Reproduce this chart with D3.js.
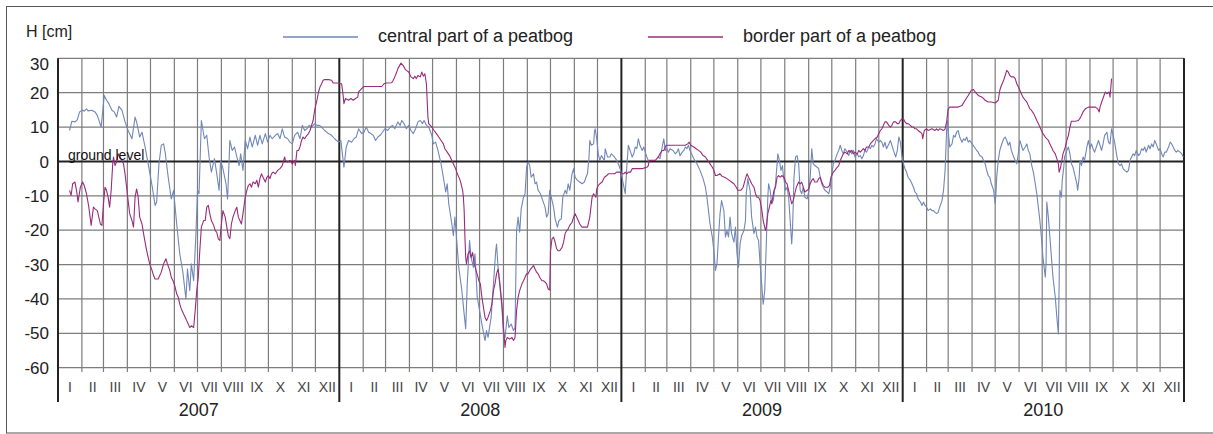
<!DOCTYPE html>
<html>
<head>
<meta charset="utf-8">
<script src="https://cdn.jsdelivr.net/npm/d3@7"></script>
<style>
  html, body { margin: 0; padding: 0; background: #fff; }
  svg { display: block; font-family: "Liberation Sans", Arial, Helvetica, sans-serif; }
</style>
</head>
<body>
<svg id="chart" width="1213" height="434"></svg>
<script>
// Water table depth H [cm] relative to ground level, 2007-2010.
// Each series is a list of [day of year, value] pairs.
const years = [2007, 2008, 2009, 2010];
const monthLabels = ["I", "II", "III", "IV", "V", "VI", "VII", "VIII", "IX", "X", "XI", "XII"];
const yTicks = [30, 20, 10, 0, -10, -20, -30, -40, -50, -60];
const seriesNames = ["central part of a peatbog", "border part of a peatbog"];

const central2007 = [[15,9.0],[18,11.7],[22,11.5],[25,12.1],[28,14.4],[32,15.0],[34,14.6],[37,15.3],[39,14.7],[44,14.9],[48,14.4],[51,13.4],[56,10.0],[60,19.2],[63,17.8],[66,16.8],[70,14.9],[73,14.4],[76,12.9],[79,16.0],[83,14.9],[87,11.5],[91,9.0],[96,6.6],[100,12.9],[102,11.5],[106,7.1],[109,8.5],[113,4.2],[117,-0.7],[122,-7.0],[126,-12.8],[128,-11.8],[131,-0.7],[134,4.7],[137,5.1],[139,2.7],[143,-4.6],[147,-10.9],[150,-8.4],[154,-18.2],[158,-26.9],[162,-32.2],[166,-40.0],[168,-31.3],[171,-37.6],[173,-29.8],[176,-34.7],[179,-21.0],[181,-8.4],[183,-9.4],[186,11.9],[190,6.6],[193,7.6],[196,1.3],[199,-3.1],[203,0.8],[206,-3.6],[209,-8.4],[211,0.3],[214,-2.1],[218,-6.5],[220,-10.9],[223,6.1],[226,3.2],[229,4.2],[232,1.3],[235,-1.2],[237,2.2],[240,-2.6],[243,6.1],[246,3.7],[249,7.1],[252,4.2],[256,7.6],[259,4.7],[262,7.6],[265,5.1],[269,8.1],[272,5.6],[275,7.6],[278,6.6],[282,7.6],[285,8.1],[288,6.6],[291,9.5],[294,7.1],[298,6.6],[301,5.6],[304,5.1],[307,7.6],[311,8.5],[314,6.6],[317,10.5],[320,9.0],[323,9.5],[326,10.5],[329,10.0],[333,11.0],[336,10.5],[339,10.5],[342,10.0],[346,9.0],[351,8.1],[355,7.6],[359,6.6],[364,5.6]];
const central2008 = [[2,6.1],[6,-1.7],[9,4.2],[12,6.1],[16,5.6],[19,6.6],[22,7.1],[25,9.5],[29,8.1],[32,8.5],[35,10.0],[38,8.5],[41,8.1],[44,7.6],[47,6.1],[50,7.1],[53,7.6],[56,8.5],[59,9.5],[63,9.0],[66,10.0],[69,10.5],[72,9.5],[76,11.5],[79,10.5],[81,11.9],[84,11.0],[87,9.5],[90,10.5],[93,9.0],[96,8.1],[99,9.5],[102,11.5],[105,11.9],[108,11.0],[110,11.9],[113,10.5],[116,10.0],[120,7.6],[122,5.1],[125,5.6],[128,3.2],[132,-0.7],[135,-4.6],[138,-8.9],[140,-6.5],[142,-12.3],[146,-18.2],[148,-21.6],[150,-16.2],[152,-22.0],[155,-30.8],[159,-37.6],[162,-44.4],[164,-48.7],[166,-35.6],[169,-23.0],[171,-27.9],[174,-30.8],[176,-26.9],[179,-39.5],[182,-43.4],[185,-47.3],[189,-52.1],[191,-49.2],[193,-51.2],[197,-45.3],[200,-35.6],[203,-25.9],[204,-24.0],[206,-30.8],[208,-35.6],[211,-42.4],[213,-50.2],[215,-51.2],[218,-44.9],[220,-48.3],[223,-47.3],[226,-49.2],[228,-48.3],[230,-20.1],[232,-16.2],[234,-20.6],[236,-13.8],[239,-10.4],[241,-9.4],[243,-1.7],[245,-0.2],[247,-1.2],[249,-4.6],[252,-3.6],[254,-6.5],[256,-6.0],[258,-8.4],[261,-9.4],[264,-11.4],[267,-13.3],[269,-16.2],[271,-15.2],[273,-8.4],[275,-10.4],[278,-13.3],[280,-16.7],[283,-19.1],[285,-17.2],[288,-16.7],[290,-10.4],[293,-8.4],[295,-9.4],[297,-6.5],[299,-8.4],[302,-3.6],[304,-2.1],[306,-4.6],[309,-5.5],[312,-6.0],[315,-6.5],[318,-6.0],[320,-4.6],[322,-3.6],[324,1.3],[325,6.1],[327,4.7],[330,5.1],[331,8.5],[332,9.5],[334,6.6],[336,2.2],[338,0.3],[340,1.7],[344,0.3],[345,3.7],[348,1.3],[351,1.3],[353,2.2],[357,1.3],[360,0.3],[363,-1.2],[365,-2.6]];
const central2009 = [[2,-6.0],[5,-9.4],[7,-1.7],[9,4.7],[12,2.7],[14,1.3],[16,2.2],[18,4.2],[20,3.7],[22,6.6],[24,4.7],[27,3.2],[29,4.2],[31,2.7],[33,1.3],[35,0.3],[40,null],[47,1.3],[50,0.8],[53,4.2],[55,6.6],[57,3.2],[59,3.7],[61,2.7],[63,3.7],[67,3.2],[70,2.2],[72,2.7],[74,3.7],[76,1.7],[79,2.7],[81,3.2],[83,4.2],[85,3.7],[87,4.7],[89,3.2],[92,1.7],[94,0.8],[98,-0.7],[102,-2.6],[106,-5.0],[109,-7.5],[111,-10.4],[113,-14.3],[115,-18.2],[118,-22.0],[120,-25.9],[122,-31.7],[124,-29.8],[126,-22.0],[128,-15.2],[130,-11.4],[133,-14.3],[135,-22.0],[137,-20.1],[139,-22.0],[141,-16.2],[143,-21.0],[146,-23.5],[148,-19.1],[150,-26.9],[152,-30.8],[154,-24.0],[156,-21.6],[159,-20.1],[161,-17.2],[162,-9.4],[164,-5.0],[166,-7.5],[167,-8.4],[169,-16.2],[172,-21.0],[174,-19.1],[176,-22.0],[178,-23.0],[180,-29.8],[182,-35.6],[184,-41.5],[186,-37.6],[188,-24.0],[190,-10.4],[191,-6.5],[193,-8.4],[195,-12.3],[197,-11.4],[200,-6.5],[202,-0.7],[203,2.2],[205,0.3],[207,-2.6],[209,-1.2],[210,-3.6],[213,-8.4],[215,-7.5],[217,-10.4],[219,-17.2],[221,-24.0],[222,-20.1],[224,-4.6],[226,1.3],[228,1.7],[230,-0.7],[232,-8.4],[234,-9.4],[236,-7.5],[238,-10.4],[241,-10.9],[243,-8.9],[245,-4.6],[247,3.7],[249,-0.7],[251,-1.2],[254,-1.7],[256,-2.1],[258,-4.6],[260,-6.5],[262,-7.5],[264,-8.4],[267,-8.9],[269,-9.4],[271,-7.5],[273,-3.6],[275,-0.7],[277,0.3],[280,2.2],[282,3.2],[284,4.7],[286,3.2],[288,2.2],[290,3.7],[293,2.7],[295,1.7],[297,3.2],[299,2.2],[301,3.2],[303,1.3],[306,2.2],[308,1.3],[310,1.7],[312,0.8],[314,1.7],[316,3.2],[318,2.7],[321,4.2],[323,3.7],[325,4.7],[327,4.2],[329,5.1],[331,6.6],[334,5.6],[336,6.1],[338,5.6],[340,4.2],[342,5.6],[344,3.7],[347,5.1],[349,6.1],[351,4.7],[353,3.2],[356,1.3],[358,3.2],[360,7.1],[362,5.6],[364,1.7]];
const central2010 = [[1,-0.7],[3,-2.1],[5,-3.1],[7,-4.6],[10,-5.5],[12,-6.5],[14,-7.5],[16,-8.9],[18,-9.4],[20,-10.9],[23,-11.8],[25,-12.8],[27,-11.8],[29,-12.8],[31,-13.3],[33,-14.3],[36,-13.8],[38,-14.3],[40,-14.3],[42,-14.8],[44,-15.2],[46,-14.8],[48,-13.3],[51,-11.4],[53,-8.4],[55,-2.6],[57,9.0],[58,11.9],[59,9.0],[61,4.2],[64,5.1],[66,7.6],[68,7.1],[70,8.5],[72,9.0],[74,7.1],[77,5.6],[79,6.6],[81,6.1],[83,7.1],[85,5.6],[87,6.1],[90,5.1],[93,4.2],[96,3.2],[98,2.7],[100,1.7],[103,1.3],[105,0.3],[107,-0.7],[109,-2.6],[111,-4.1],[113,-4.6],[115,-6.5],[118,-8.4],[120,-12.3],[121,-9.4],[122,-4.6],[124,0.3],[126,3.2],[128,4.7],[131,6.6],[133,7.1],[135,6.1],[137,4.7],[139,5.6],[141,3.2],[144,1.3],[146,0.3],[148,-0.7],[150,2.2],[152,6.1],[154,4.7],[156,3.2],[159,4.2],[161,5.1],[163,3.2],[165,2.2],[167,-0.7],[170,-3.6],[172,-6.5],[174,-9.4],[176,-13.3],[178,-17.2],[180,-22.0],[182,-27.9],[185,-33.7],[186,-29.8],[187,-11.8],[189,-16.2],[191,-22.0],[193,-27.9],[195,-33.7],[198,-39.5],[200,-45.3],[202,-50.2],[203,-35.6],[204,-8.4],[206,-10.4],[207,-5.5],[209,-1.7],[210,1.3],[213,3.2],[215,4.2],[217,2.2],[219,-0.7],[221,-1.7],[223,-3.6],[226,-6.5],[227,-8.4],[229,-4.6],[230,0.3],[232,-1.2],[234,1.3],[236,0.3],[239,4.2],[241,6.1],[243,3.7],[245,5.1],[247,3.7],[249,2.7],[252,4.7],[254,6.1],[256,4.7],[258,3.2],[260,5.1],[262,7.6],[265,8.5],[267,5.6],[269,5.1],[271,9.5],[273,7.6],[275,5.6],[278,1.3],[280,-0.7],[282,-1.2],[284,-0.7],[286,-2.1],[288,-2.6],[291,-3.1],[293,-2.6],[295,0.3],[297,1.3],[299,2.2],[301,1.7],[303,3.2],[306,1.7],[308,2.2],[310,3.7],[312,3.2],[314,4.2],[316,2.7],[319,4.7],[321,3.7],[323,5.1],[325,4.2],[327,6.1],[329,5.1],[332,3.2],[334,3.7],[336,2.2],[338,1.3],[340,2.7],[342,2.7],[345,4.2],[347,5.6],[349,5.1],[351,4.2],[353,3.2],[355,2.7],[357,3.2],[360,2.7],[362,2.2],[364,1.3]];

const border2007 = [[15,-8.4],[17,-9.9],[19,-6.5],[22,-6.0],[24,-8.4],[26,-11.8],[29,-7.5],[32,-6.0],[34,-7.0],[37,-9.4],[40,-13.3],[43,-18.6],[46,-13.3],[48,-13.8],[51,-14.3],[55,-18.2],[57,-18.6],[59,-12.3],[61,-7.5],[63,-8.4],[65,-10.4],[67,-13.3],[69,-8.4],[71,-0.7],[72,1.3],[74,-1.2],[76,-0.2],[78,2.2],[80,1.3],[83,0.3],[85,-0.7],[87,-3.6],[89,-7.5],[91,-11.4],[93,-15.2],[96,-17.2],[98,-19.1],[100,-10.4],[102,-8.0],[104,-10.4],[106,-16.2],[109,-18.2],[111,-21.0],[113,-23.5],[115,-25.9],[117,-27.9],[119,-29.8],[122,-31.7],[124,-33.2],[126,-34.2],[130,-34.2],[134,-32.2],[137,-29.8],[140,-28.3],[142,-29.8],[145,-31.7],[147,-33.7],[150,-35.1],[152,-36.6],[154,-38.5],[156,-39.5],[158,-41.5],[160,-42.9],[163,-44.4],[165,-45.3],[167,-46.3],[169,-47.3],[171,-48.3],[173,-47.8],[176,-48.3],[178,-43.4],[180,-37.6],[182,-33.7],[184,-25.9],[186,-19.1],[189,-17.2],[191,-17.2],[193,-13.3],[195,-12.8],[197,-15.2],[199,-17.2],[202,-18.6],[204,-20.1],[206,-20.6],[208,-22.5],[210,-23.0],[212,-18.2],[214,-14.3],[217,-16.2],[219,-19.1],[221,-21.6],[223,-22.5],[225,-18.2],[227,-16.2],[230,-14.3],[232,-13.3],[234,-16.2],[236,-17.2],[238,-18.2],[240,-15.2],[243,-10.4],[245,-8.4],[247,-7.0],[249,-6.5],[251,-7.5],[253,-6.0],[256,-6.5],[258,-5.5],[260,-7.5],[262,-5.0],[264,-3.6],[266,-4.6],[269,-6.0],[271,-4.6],[273,-4.1],[275,-5.0],[277,-3.6],[279,-3.1],[282,-3.6],[285,-2.6],[288,-2.1],[291,-1.2],[294,1.3],[295,0.3],[298,-0.2],[301,0.3],[304,-0.7],[307,0.3],[308,-1.2],[310,3.2],[312,3.2],[314,4.2],[316,6.1],[318,7.1],[320,6.6],[323,7.6],[325,8.1],[327,9.0],[329,10.5],[331,11.9],[333,14.9],[336,17.8],[338,20.2],[340,21.7],[342,22.6],[344,23.6],[346,23.8],[351,23.8],[355,23.6],[357,22.8],[361,22.8],[365,22.8]];
const border2008 = [[1,22.6],[3,22.6],[5,19.2],[6,16.8],[8,18.3],[12,17.8],[15,18.3],[18,17.8],[21,18.3],[24,18.7],[25,20.2],[29,21.2],[32,21.8],[46,21.8],[55,21.8],[58,22.6],[61,22.8],[68,22.9],[70,23.6],[72,24.6],[74,25.7],[76,27.0],[80,28.6],[83,27.9],[85,27.0],[87,26.5],[90,26.0],[93,24.6],[96,24.1],[98,24.8],[100,24.1],[102,25.0],[105,24.6],[107,26.0],[109,24.8],[111,25.5],[113,22.6],[115,12.9],[116,11.0],[120,10.0],[123,9.0],[126,8.1],[129,7.1],[132,6.1],[135,5.1],[137,3.7],[140,2.7],[143,1.7],[146,0.3],[149,-1.2],[151,-2.1],[153,-3.6],[156,-5.0],[158,-6.5],[160,-8.4],[161,-10.4],[162,-14.3],[163,-22.0],[164,-27.9],[165,-29.8],[167,-26.9],[169,-26.0],[171,-27.9],[173,-26.5],[175,-29.8],[177,-31.3],[180,-33.7],[181,-34.7],[183,-35.6],[185,-39.5],[187,-42.4],[189,-45.3],[191,-46.3],[193,-45.3],[196,-43.4],[198,-41.5],[200,-37.6],[202,-35.6],[204,-32.7],[206,-31.3],[208,-34.7],[211,-41.5],[213,-48.3],[215,-54.1],[216,-52.1],[218,-51.2],[221,-51.7],[224,-51.2],[226,-52.1],[228,-51.2],[230,-43.4],[232,-39.5],[234,-37.6],[237,-35.6],[239,-34.7],[241,-33.7],[243,-32.7],[245,-32.7],[247,-31.7],[250,-30.8],[252,-30.3],[254,-31.3],[256,-32.2],[258,-32.7],[260,-33.7],[263,-34.7],[265,-34.7],[267,-35.1],[269,-35.6],[271,-37.1],[273,-37.4],[274,-26.0],[276,-22.5],[278,-22.0],[280,-23.5],[282,-25.4],[284,-26.0],[286,-26.0],[289,-25.0],[291,-23.5],[293,-21.0],[295,-20.1],[297,-19.6],[299,-18.6],[302,-17.7],[304,-16.2],[306,-15.2],[308,-16.2],[310,-17.2],[312,-18.2],[315,-19.1],[319,-19.1],[322,-19.1],[325,-16.2],[327,-12.3],[328,-10.4],[330,-9.4],[333,-10.4],[334,-8.0],[336,-7.0],[338,-6.5],[341,-6.0],[344,-4.6],[347,-4.1],[349,-3.6],[354,-3.6],[357,-3.6],[360,-3.1],[364,-3.1]];
const border2009 = [[1,-3.6],[3,-3.6],[5,-3.1],[7,-3.6],[9,-3.1],[12,-3.1],[14,-2.1],[18,-2.1],[22,-2.1],[27,-2.1],[31,-1.8],[33,-1.7],[35,-1.2],[36,0.3],[40,0.3],[44,0.3],[48,1.3],[50,2.2],[53,3.2],[55,3.2],[58,4.7],[70,4.7],[83,4.7],[86,5.1],[88,5.6],[90,4.7],[94,4.2],[97,3.7],[100,3.2],[103,2.7],[106,1.7],[109,1.3],[112,0.3],[115,-0.7],[118,-1.7],[120,-2.6],[122,-4.1],[124,-4.1],[128,-3.6],[131,-4.4],[134,-4.6],[137,-5.0],[140,-5.5],[143,-6.0],[146,-6.5],[149,-7.5],[151,-8.4],[155,-8.4],[158,-7.5],[161,-5.0],[163,-3.6],[165,-4.6],[167,-5.5],[169,-6.5],[172,-7.5],[174,-9.4],[176,-10.4],[178,-10.4],[180,-11.4],[182,-13.8],[184,-17.2],[187,-20.1],[188,-19.1],[190,-15.2],[192,-13.3],[194,-11.4],[195,-12.3],[198,-8.4],[200,-7.5],[202,-4.6],[204,-4.1],[206,-4.6],[208,-4.1],[211,-4.6],[213,-6.0],[215,-6.5],[217,-8.4],[219,-10.4],[221,-12.3],[223,-11.4],[225,-9.4],[227,-7.5],[230,-6.0],[232,-6.5],[234,-6.0],[236,-7.5],[238,-8.9],[241,-8.4],[243,-8.0],[245,-6.5],[247,-5.5],[249,-5.0],[251,-6.0],[254,-6.0],[256,-5.0],[258,-4.6],[260,-6.0],[262,-7.0],[264,-7.5],[268,-7.5],[270,-7.0],[272,-4.6],[273,-4.1],[275,-3.1],[277,-2.6],[280,-1.7],[282,-1.2],[284,0.3],[286,1.3],[288,2.2],[290,2.7],[293,2.2],[295,3.2],[297,2.7],[299,3.2],[301,2.2],[303,2.7],[306,2.2],[308,3.2],[310,2.7],[312,3.2],[314,3.7],[316,3.2],[318,4.2],[321,4.2],[323,5.1],[325,5.6],[327,6.1],[329,6.6],[332,7.1],[334,8.1],[336,9.0],[338,9.5],[340,10.5],[342,11.5],[344,11.5],[347,10.5],[349,10.0],[351,10.5],[353,11.5],[356,11.5],[358,11.0],[360,11.0],[362,11.9],[364,12.4]];
const border2010 = [[1,12.4],[3,11.5],[5,11.0],[7,11.0],[10,10.5],[12,10.0],[14,10.0],[16,9.5],[18,9.5],[20,9.0],[23,8.5],[25,8.1],[26,6.6],[28,9.0],[31,9.5],[33,9.0],[38,9.5],[42,9.0],[44,9.5],[46,9.0],[48,9.5],[51,9.2],[53,9.0],[55,9.5],[57,11.5],[59,15.3],[61,15.8],[66,15.8],[72,15.8],[77,16.3],[81,17.8],[85,19.2],[89,20.7],[92,20.9],[94,20.2],[98,19.2],[103,18.7],[107,17.8],[111,17.3],[115,17.3],[120,17.0],[124,17.8],[126,20.7],[128,22.1],[131,23.6],[133,25.0],[135,26.5],[137,26.0],[139,25.0],[141,24.6],[144,24.6],[146,24.1],[148,22.6],[150,21.7],[152,20.7],[154,19.7],[156,18.7],[159,17.8],[161,17.3],[163,16.3],[165,15.3],[167,14.9],[170,13.9],[172,12.9],[174,11.9],[176,11.0],[178,10.0],[180,9.0],[182,8.1],[185,7.1],[187,6.6],[189,6.1],[191,5.1],[193,4.2],[195,3.2],[198,2.2],[200,0.8],[202,-0.7],[203,-3.1],[205,-1.7],[206,-0.2],[208,2.2],[211,4.2],[213,6.1],[215,7.6],[217,10.0],[219,11.7],[224,11.7],[228,11.9],[231,12.9],[234,14.4],[237,15.3],[241,15.8],[245,15.8],[250,15.8],[253,15.3],[255,14.4],[256,15.8],[259,17.8],[262,19.7],[263,20.2],[265,19.7],[268,20.2],[269,18.7],[271,24.1]];

const seriesColors = ["#7087b8", "#992c7d"];

// Turn [day, value] pairs of each year into dated points
function toPoints(year, pairs) {
  const start = new Date(year, 0, 1);
  return pairs.map(([day, v]) => ({ date: d3.timeDay.offset(start, day), v }));
}
const central = [].concat(
  toPoints(2007, central2007), toPoints(2008, central2008),
  toPoints(2009, central2009), toPoints(2010, central2010));
const border = [].concat(
  toPoints(2007, border2007), toPoints(2008, border2008),
  toPoints(2009, border2009), toPoints(2010, border2010));

const svg = d3.select("#chart");
const plotLeft = 58, plotRight = 1184, plotTop = 58.3, plotBottom = 367.7;

const x = d3.scaleTime()
  .domain([new Date(years[0], 0, 1), new Date(years[years.length - 1] + 1, 0, 1)])
  .range([plotLeft, plotRight]);
const y = d3.scaleLinear().domain([-60, 30]).range([plotBottom, plotTop]);

// outer frame
svg.append("rect")
  .attr("x", 6.5).attr("y", 6.5).attr("width", 1230).attr("height", 426.5)
  .attr("fill", "none").attr("stroke", "#555").attr("stroke-width", 1);

// horizontal grid
const grid = svg.append("g");
grid.selectAll("line.h").data(yTicks.filter(d => d !== 0)).join("line")
  .attr("x1", plotLeft).attr("x2", plotRight)
  .attr("y1", d => y(d)).attr("y2", d => y(d))
  .attr("stroke", "#7d7d7d").attr("stroke-width", 1.2);

// month grid lines (year starts are drawn separately)
const monthStarts = d3.timeMonth.range(x.domain()[0], x.domain()[1]).filter(d => d.getMonth() !== 0);
grid.selectAll("line.m").data(monthStarts).join("line")
  .attr("x1", d => x(d)).attr("x2", d => x(d))
  .attr("y1", plotTop).attr("y2", 372)
  .attr("stroke", "#7d7d7d").attr("stroke-width", 1.2);

// ground level
grid.append("line")
  .attr("x1", plotLeft).attr("x2", plotRight).attr("y1", y(0)).attr("y2", y(0))
  .attr("stroke", "#222").attr("stroke-width", 2);

// year separators (including both ends)
const yearStarts = d3.timeYear.range(x.domain()[0], d3.timeDay.offset(x.domain()[1], 1));
grid.selectAll("line.y").data(yearStarts).join("line")
  .attr("x1", d => x(d)).attr("x2", d => x(d))
  .attr("y1", plotTop).attr("y2", 402)
  .attr("stroke", "#222").attr("stroke-width", 2);

// y tick labels
svg.append("g").selectAll("text").data(yTicks).join("text")
  .attr("x", 49).attr("y", d => y(d) + (d === 30 ? 6 : 0))
  .attr("dy", "0.36em").attr("text-anchor", "end")
  .attr("font-size", 17).attr("fill", "#222")
  .text(d => d);

// month labels centred in each month
const allMonths = d3.timeMonth.range(x.domain()[0], x.domain()[1]);
svg.append("g").selectAll("text").data(allMonths).join("text")
  .attr("x", d => (x(d) + x(d3.timeMonth.offset(d, 1))) / 2)
  .attr("y", 392).attr("text-anchor", "middle")
  .attr("font-size", 14).attr("fill", "#444")
  .text(d => monthLabels[d.getMonth()]);

// year labels
svg.append("g").selectAll("text").data(years).join("text")
  .attr("x", d => (x(new Date(d, 0, 1)) + x(new Date(d + 1, 0, 1))) / 2)
  .attr("y", 416).attr("text-anchor", "middle")
  .attr("font-size", 18).attr("fill", "#222")
  .text(d => d);

// series lines
const line = d3.line()
  .defined(d => d.v !== null)
  .x(d => x(d.date)).y(d => y(d.v));

svg.append("path").datum(central)
  .attr("d", line).attr("fill", "none")
  .attr("stroke", seriesColors[0]).attr("stroke-width", 1.1)
  .attr("stroke-linejoin", "round");
svg.append("path").datum(border)
  .attr("d", line).attr("fill", "none")
  .attr("stroke", seriesColors[1]).attr("stroke-width", 1.1)
  .attr("stroke-linejoin", "round");

// ground level caption
svg.append("text").attr("x", 68).attr("y", 160)
  .attr("font-size", 14).attr("fill", "#111").text("ground level");

// axis title
svg.append("text").attr("x", 26).attr("y", 37)
  .attr("font-size", 16).attr("fill", "#222").text("H [cm]");

// legend
const legendItems = [
  { name: seriesNames[0], color: seriesColors[0], x0: 283 },
  { name: seriesNames[1], color: seriesColors[1], x0: 648 }
];
const lg = svg.append("g").selectAll("g").data(legendItems).join("g");
lg.append("line")
  .attr("x1", d => d.x0).attr("x2", d => d.x0 + 75)
  .attr("y1", 37).attr("y2", 37)
  .attr("stroke", d => d.color).attr("stroke-width", 1.6);
lg.append("text")
  .attr("x", d => d.x0 + 95).attr("y", 42)
  .attr("font-size", 18).attr("fill", "#222")
  .text(d => d.name);
</script>
</body>
</html>
